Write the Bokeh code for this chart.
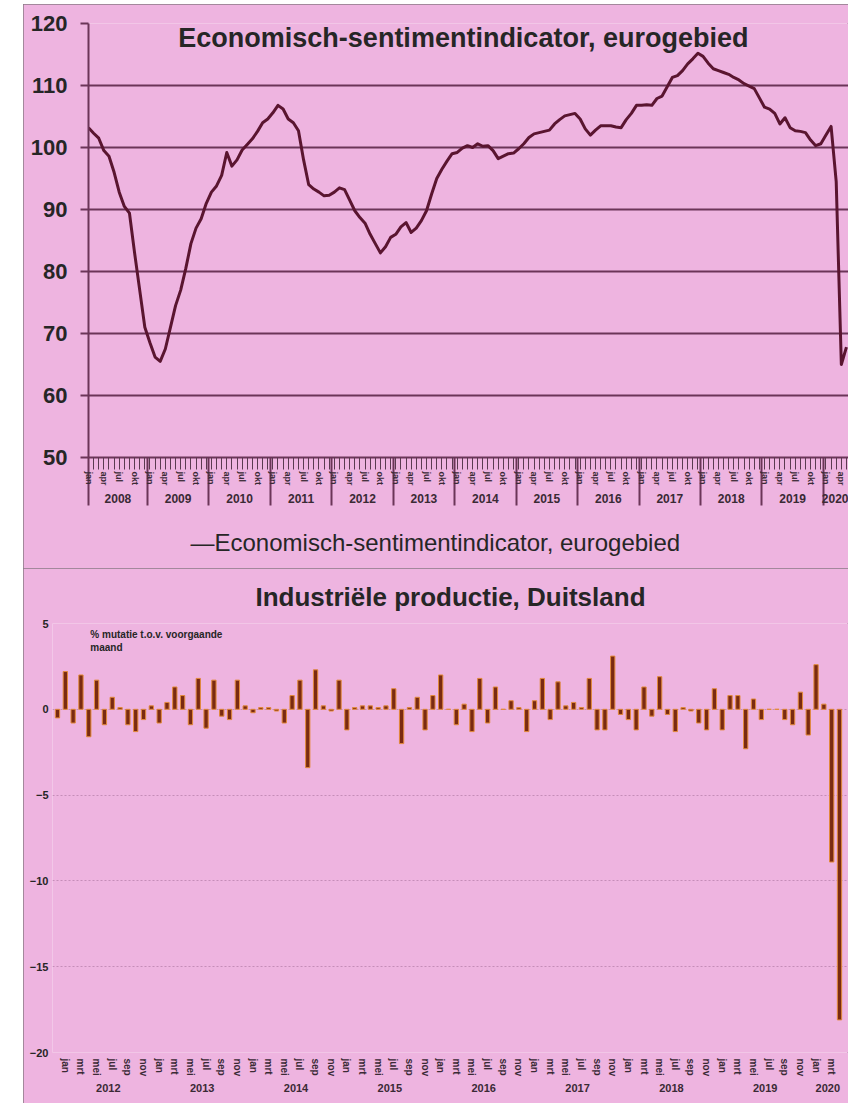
from bokeh.plotting import figure
from bokeh.models import Range1d, FixedTicker, LinearAxis, Label, Spacer, Title
from bokeh.layouts import row, column
from bokeh.embed import file_html
from bokeh.resources import INLINE

PINK = "#EEB4E0"
FONT = "Liberation Sans"
TXT = "#262626"
GRID = "#6B3558"
LINE = "#5A1530"

month_names = ["jan", "feb", "mrt", "apr", "mei", "jun", "jul", "aug", "sep", "okt", "nov", "dec"]

# ---------------- Economisch-sentimentindicator (monthly, Jan 2008 - May 2020)
esi_years = [2008, 2009, 2010, 2011, 2012, 2013, 2014, 2015, 2016, 2017, 2018, 2019, 2020]
esi_2008 = [103.2, 102.3, 101.5, 99.5, 98.6, 96.0, 92.8, 90.5, 89.4, 83.0, 77.0, 71.0]
esi_2009 = [68.5, 66.2, 65.5, 67.5, 71.0, 74.5, 77.0, 80.5, 84.5, 87.0, 88.5, 91.0]
esi_2010 = [92.8, 93.8, 95.5, 99.2, 97.0, 98.0, 99.6, 100.5, 101.4, 102.6, 104.0, 104.6]
esi_2011 = [105.6, 106.8, 106.2, 104.6, 104.0, 102.7, 98.0, 94.0, 93.3, 92.8, 92.2, 92.3]
esi_2012 = [92.8, 93.5, 93.2, 91.5, 89.8, 88.7, 87.8, 86.0, 84.5, 83.0, 84.0, 85.5]
esi_2013 = [86.0, 87.2, 87.9, 86.3, 87.0, 88.2, 89.8, 92.5, 95.0, 96.5, 97.8, 99.0]
esi_2014 = [99.2, 99.9, 100.3, 100.0, 100.6, 100.2, 100.3, 99.5, 98.2, 98.6, 99.0, 99.1]
esi_2015 = [99.8, 100.6, 101.6, 102.2, 102.4, 102.6, 102.8, 103.8, 104.5, 105.1, 105.3, 105.5]
esi_2016 = [104.6, 103.0, 102.0, 102.8, 103.5, 103.5, 103.5, 103.3, 103.2, 104.5, 105.5, 106.8]
esi_2017 = [106.8, 106.9, 106.8, 107.9, 108.3, 109.8, 111.3, 111.6, 112.4, 113.5, 114.3, 115.2]
esi_2018 = [114.7, 113.6, 112.7, 112.4, 112.1, 111.8, 111.3, 110.9, 110.3, 109.9, 109.5, 108.0]
esi_2019 = [106.5, 106.2, 105.5, 103.8, 104.8, 103.2, 102.7, 102.6, 102.4, 101.2, 100.3, 100.6]
esi_2020 = [102.0, 103.4, 94.5, 65.0, 67.8]
esi_y_ticks = [50, 60, 70, 80, 90, 100, 110, 120]

esi_values = (esi_2008 + esi_2009 + esi_2010 + esi_2011 + esi_2012 + esi_2013 + esi_2014
              + esi_2015 + esi_2016 + esi_2017 + esi_2018 + esi_2019 + esi_2020)
esi_month = list(range(len(esi_values)))

# ---------------- Industriële productie Duitsland (% m/m, Dec 2011 - Apr 2020)
ip_years = [2012, 2013, 2014, 2015, 2016, 2017, 2018, 2019, 2020]
ip_2011 = [-0.5]
ip_2012 = [2.2, -0.8, 2.0, -1.6, 1.7, -0.9, 0.7, 0.1, -0.9, -1.3, -0.6, 0.2]
ip_2013 = [-0.8, 0.4, 1.3, 0.8, -0.9, 1.8, -1.1, 1.7, -0.4, -0.6, 1.7, 0.2]
ip_2014 = [-0.2, 0.1, 0.1, -0.1, -0.8, 0.8, 1.7, -3.4, 2.3, 0.2, -0.1, 1.7]
ip_2015 = [-1.2, 0.1, 0.2, 0.2, 0.1, 0.2, 1.2, -2.0, 0.1, 0.7, -1.2, 0.8]
ip_2016 = [2.0, 0.0, -0.9, 0.3, -1.3, 1.8, -0.8, 1.3, 0.0, 0.5, 0.1, -1.3]
ip_2017 = [0.5, 1.8, -0.6, 1.6, 0.2, 0.4, 0.1, 1.8, -1.2, -1.2, 3.1, -0.3]
ip_2018 = [-0.6, -1.2, 1.3, -0.4, 1.9, -0.3, -1.3, 0.1, -0.1, -0.8, -1.2, 1.2]
ip_2019 = [-1.2, 0.8, 0.8, -2.3, 0.6, -0.6, 0.0, 0.0, -0.6, -0.9, 1.0, -1.5]
ip_2020 = [2.6, 0.3, -8.9, -18.1]
ip_y_ticks = [-20, -15, -10, -5, 0, 5]

ip_values = (ip_2011 + ip_2012 + ip_2013 + ip_2014 + ip_2015 + ip_2016 + ip_2017
             + ip_2018 + ip_2019 + ip_2020)
ip_k = list(range(len(ip_values)))          # 0 = dec 2011
ip_month_of = [(k + 11) % 12 for k in ip_k]  # month number 0..11

BOX = {"outline": "1px solid #8a7a86", "outline-offset": "-1px"}

# =============== TOP CHART =================
p1 = figure(width=825, height=564, x_range=Range1d(0, 148.4), y_range=Range1d(50, 120),
            output_backend="svg", toolbar_location=None,
            min_border_left=65, min_border_right=0, min_border_top=19, min_border_bottom=111,
            background_fill_color=PINK, border_fill_color=PINK, outline_line_color=None)
p1.frame_align = False
p1.styles = BOX

r_esi = p1.line(esi_month, esi_values, line_color=LINE, line_width=3, line_join="round")

ya = p1.yaxis[0]
ya.ticker = FixedTicker(ticks=esi_y_ticks)
ya.major_label_text_font = FONT
ya.major_label_text_font_size = "22px"
ya.major_label_text_font_style = "bold"
ya.major_label_text_color = TXT
ya.major_tick_out = 8
ya.major_tick_in = 0
ya.minor_tick_out = 0
ya.minor_tick_in = 0
ya.major_tick_line_color = GRID
ya.major_tick_line_width = 2
ya.axis_line_color = GRID
ya.axis_line_width = 2
ya.major_label_standoff = 13

p1.ygrid.grid_line_color = GRID
p1.ygrid.grid_line_width = 2
p1.xgrid.visible = False

year_bounds = [0] + [12 * i - 0.5 for i in range(1, len(esi_years))]
year_centers = []
for i, y in enumerate(esi_years):
    lo = year_bounds[i]
    hi = year_bounds[i + 1] if i + 1 < len(year_bounds) else len(esi_values) - 0.5
    year_centers.append((lo + hi) / 2)

xa = p1.xaxis[0]
xa.ticker = FixedTicker(ticks=esi_month, minor_ticks=year_bounds)
xa.major_label_overrides = {m: (month_names[m % 12] if m % 3 == 0 else "") for m in esi_month}
xa.major_label_orientation = "vertical"
xa.major_label_text_font = FONT
xa.major_label_text_font_size = "9px"
xa.major_label_text_font_style = "bold"
xa.major_label_text_color = "#3a2a35"
xa.major_label_standoff = -34
xa.major_tick_out = 12
xa.major_tick_in = 0
xa.major_tick_line_color = "#5a3a50"
xa.minor_tick_out = 48
xa.minor_tick_in = 0
xa.minor_tick_line_color = GRID
xa.minor_tick_line_width = 2
xa.axis_line_color = GRID
xa.axis_line_width = 2

xb = LinearAxis(ticker=FixedTicker(ticks=year_centers),
                major_label_overrides={c: str(y) for c, y in zip(year_centers, esi_years)},
                major_tick_out=0, major_tick_in=0, minor_tick_out=0, minor_tick_in=0,
                axis_line_color=None, major_label_standoff=5,
                major_label_text_font=FONT, major_label_text_font_size="12px",
                major_label_text_font_style="bold", major_label_text_color="#3a2a35")
p1.add_layout(xb, "below")

# small gap, then the legend line (rendered as text with a dash)
p1.add_layout(Title(text=" ", text_font_size="2px", standoff=11), "below")
p1.add_layout(Title(text="\u2014Economisch-sentimentindicator, eurogebied", align="left",
                    offset=102, standoff=12, text_font=FONT, text_font_size="24px",
                    text_font_style="normal", text_color=TXT), "below")

p1.add_layout(Label(x=73.2, y=117.6, text="Economisch-sentimentindicator, eurogebied",
                    text_align="center", text_baseline="middle", text_font=FONT,
                    text_font_size="27px", text_font_style="bold", text_color=TXT))

# =============== BOTTOM CHART =================
p2 = figure(width=825, height=535, x_range=Range1d(-0.64, 101.15), y_range=Range1d(-20, 5),
            output_backend="svg", toolbar_location=None,
            min_border_left=29, min_border_right=0, min_border_top=54, min_border_bottom=51,
            background_fill_color=PINK, border_fill_color=PINK, outline_line_color=None)
p2.frame_align = False
p2.styles = BOX

p2.vbar(x=ip_k, top=ip_values, bottom=0, width=0.55,
        fill_color="#7A2A12", line_color="#E38A3A", line_width=1)

p2.title.text = "Industriële productie, Duitsland"
p2.title.align = "center"
p2.title.text_font = FONT
p2.title.text_font_size = "26px"
p2.title.text_font_style = "bold"
p2.title.text_color = TXT
p2.title.standoff = 23

yb = p2.yaxis[0]
yb.ticker = FixedTicker(ticks=ip_y_ticks)
yb.major_label_text_font = FONT
yb.major_label_text_font_size = "11px"
yb.major_label_text_font_style = "bold"
yb.major_label_text_color = TXT
yb.major_tick_out = 0
yb.major_tick_in = 0
yb.minor_tick_out = 0
yb.minor_tick_in = 0
yb.axis_line_color = None
yb.major_label_standoff = 4

p2.ygrid.grid_line_color = "#C58DB8"
p2.ygrid.grid_line_dash = "2 2"
p2.ygrid.grid_line_width = 1
p2.xgrid.visible = False

ip_label_ticks = [k for k in ip_k if ip_month_of[k] % 2 == 0]
xa2 = p2.xaxis[0]
xa2.ticker = FixedTicker(ticks=ip_label_ticks)
xa2.major_label_overrides = {k: month_names[ip_month_of[k]] for k in ip_label_ticks}
xa2.major_label_orientation = "vertical"
xa2.major_label_text_font = FONT
xa2.major_label_text_font_size = "10px"
xa2.major_label_text_font_style = "bold"
xa2.major_label_text_color = "#3a2a35"
xa2.major_label_standoff = 6
xa2.major_tick_out = 0
xa2.major_tick_in = 0
xa2.minor_tick_out = 0
xa2.minor_tick_in = 0
xa2.axis_line_color = None

ip_year_centers = []
for y in ip_years:
    ks = [k for k in ip_k if (2011 + (k + 11) // 12) == y]
    ip_year_centers.append((ks[0] + ks[-1]) / 2)

xb2 = LinearAxis(ticker=FixedTicker(ticks=ip_year_centers),
                 major_label_overrides={c: str(y) for c, y in zip(ip_year_centers, ip_years)},
                 major_tick_out=0, major_tick_in=0, minor_tick_out=0, minor_tick_in=0,
                 axis_line_color=None, major_label_standoff=4,
                 major_label_text_font=FONT, major_label_text_font_size="11px",
                 major_label_text_font_style="bold", major_label_text_color="#3a2a35")
p2.add_layout(xb2, "below")

p2.add_layout(Label(x=4.2, y=4.7, text="% mutatie t.o.v. voorgaande", text_align="left",
                    text_baseline="top", text_font=FONT, text_font_size="10px",
                    text_font_style="bold", text_color=TXT))
p2.add_layout(Label(x=4.2, y=3.95, text="maand", text_align="left",
                    text_baseline="top", text_font=FONT, text_font_size="10px",
                    text_font_style="bold", text_color=TXT))

page = row(Spacer(width=23, height=1103), column(Spacer(width=825, height=4), p1, p2))
open("out.html", "w").write(file_html(page, INLINE))
